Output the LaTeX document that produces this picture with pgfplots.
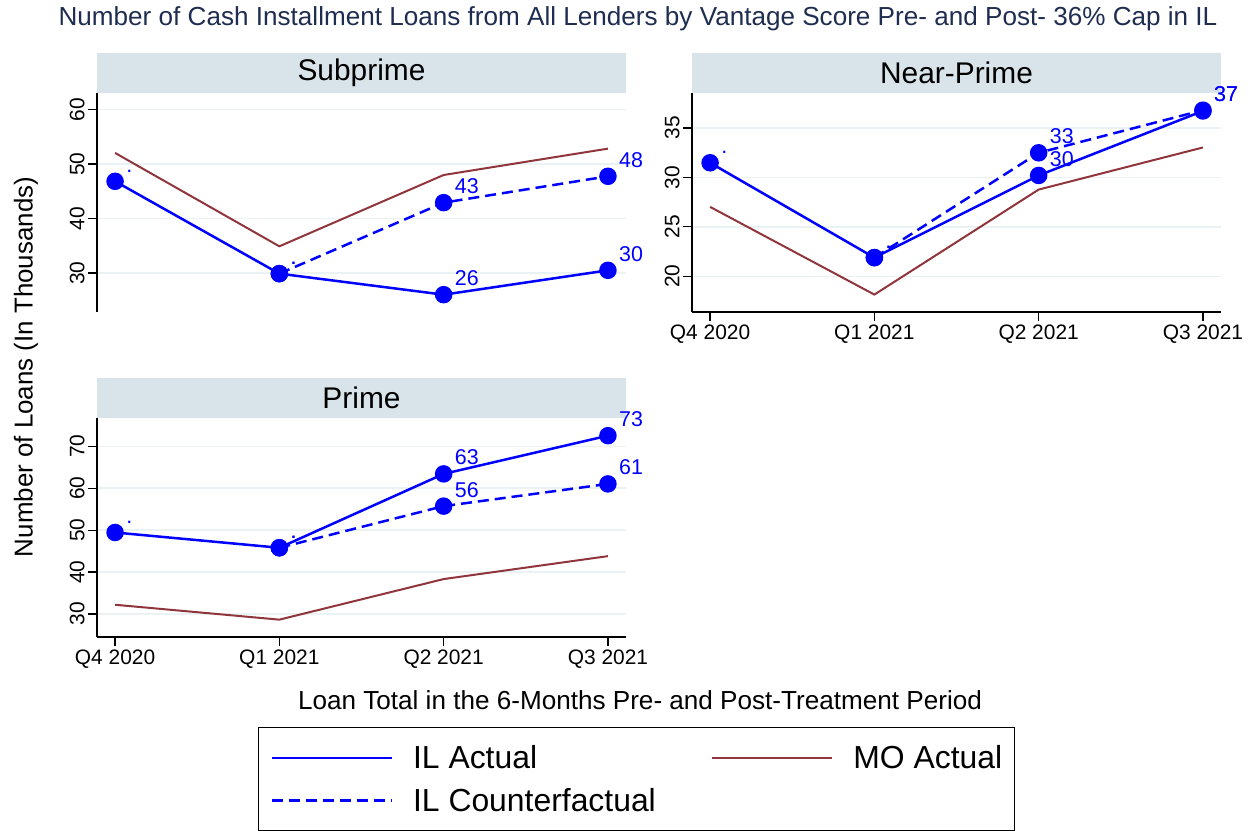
\documentclass[border=0pt]{standalone}
\usepackage{pgfplots}
\pgfplotsset{compat=1.18}
\usepackage{fontspec}
\setmainfont{Liberation Sans}
\definecolor{hdr}{RGB}{217,228,234}
\definecolor{gridc}{RGB}{234,242,243}
\definecolor{mo}{RGB}{144,53,59}
\definecolor{ttl}{RGB}{30,45,80}

\pgfplotsset{
  panel/.style={
    scale only axis, width=529bp, height=219bp,
    xmin=-0.11, xmax=3.11, clip=false,
    xtick={0,1,2,3}, xticklabels={Q4 2020,Q1 2021,Q2 2021,Q3 2021},
    axis line style={-, black, line width=1.2bp},
    tick style={black, line width=1.2bp},
    tick align=outside, major tick length=9bp,
    ymajorgrids, major grid style={gridc, line width=1.5bp},
    yticklabel style={rotate=90, anchor=south},
    ticklabel style={font=\fontsize{21}{25}\selectfont, text=black},
    /pgf/number format/assume math mode=true,
  },
  ilA/.style={blue, solid, line width=2.5bp, mark=*, mark size=7.5bp,
    mark options={solid, fill=blue, draw=blue},
    nodes near coords, point meta=explicit symbolic,
    every node near coord/.append style={anchor=base west, xshift=10bp, yshift=9bp,
      inner sep=0pt, text=blue, font=\fontsize{21.5}{25}\selectfont}},
  ilC/.style={ilA, dash pattern=on 11bp off 6bp},
  moA/.style={mo, solid, line width=2bp, no markers},
}

\begin{document}
\begin{tikzpicture}[x=1bp,y=1bp]
\path[use as bounding box] (0,0) rectangle (1256,831);

% title
\node[text=ttl, font=\fontsize{26.2}{30}\selectfont] at (638,812) {Number of Cash Installment Loans from All Lenders by Vantage Score Pre- and Post- 36\% Cap in IL};

% panel headers
\fill[hdr] (97,738) rectangle (626,778);
\fill[hdr] (692,738) rectangle (1221,778);
\fill[hdr] (97,413) rectangle (626,453);
\node[font=\fontsize{30}{35}\selectfont] at (361.5,758) {Subprime};
\node[font=\fontsize{30}{35}\selectfont] at (956.5,758) {Near-Prime};
\node[font=\fontsize{30}{35}\selectfont] at (361.5,433) {Prime};

% axis titles
\node[rotate=90, font=\fontsize{26}{30}\selectfont] at (26,464) {Number of Loans (In Thousands)};
\node[font=\fontsize{26.2}{30}\selectfont] at (640,131) {Loan Total in the 6-Months Pre- and Post-Treatment Period};

% Subprime
\begin{axis}[panel, at={(97bp,519bp)}, anchor=south west,
  axis x line=none, axis y line*=left,
  ymin=22.84, ymax=63.06, ytick={30,40,50,60}]
\addplot[moA] coordinates {(0,52.05) (1,34.9) (2,48.0) (3,52.84)};
\addplot[ilA] coordinates {(0,46.84) [.] (1,29.88) [.] (2,26.02) [26] (3,30.49) [30]};
\addplot[ilC] coordinates {(1,29.88) [.] (2,42.92) [43] (3,47.76) [48]};
\end{axis}

% Near-Prime
\begin{axis}[panel, at={(692bp,519bp)}, anchor=south west,
  axis lines*=left,
  ymin=16.39, ymax=38.54, ytick={20,25,30,35}]
\addplot[moA] coordinates {(0,27.02) (1,18.15) (2,28.77) (3,33.03)};
\addplot[ilA] coordinates {(0,31.48) [.] (1,21.89) [.] (2,30.2) [30] (3,36.72) [37]};
\addplot[ilC] coordinates {(1,21.89) [.] (2,32.49) [33] (3,36.8) [37]};
\end{axis}

% Prime
\begin{axis}[panel, at={(97bp,194bp)}, anchor=south west,
  axis lines*=left,
  ymin=24.51, ymax=76.76, ytick={30,40,50,60,70},
  legend image code/.code={\draw[#1] (0bp,0bp) -- (120bp,0bp);},
  legend cell align=left,
  legend style={at={(0.3043,-0.411)}, anchor=north west, draw=black, line width=1.2bp,
    legend columns=2, font=\fontsize{32}{38}\selectfont,
    inner xsep=12bp, inner ysep=14bp, row sep=10bp,
    nodes={inner xsep=0bp, inner ysep=4bp},
    /tikz/every odd column/.append style={column sep=20bp},
    /tikz/every even column/.append style={column sep=55bp}}]
\addlegendimage{blue, line width=2.5bp}
\addlegendentry{IL Actual}
\addlegendimage{mo, line width=2.5bp}
\addlegendentry{MO Actual}
\addlegendimage{blue, line width=2.5bp, dash pattern=on 11bp off 6bp}
\addlegendentry{IL Counterfactual}
\addplot[moA, forget plot] coordinates {(0,32.2) (1,28.65) (2,38.33) (3,43.8)};
\addplot[ilA, forget plot] coordinates {(0,49.44) [.] (1,45.8) [.] (2,63.42) [63] (3,72.54) [73]};
\addplot[ilC, forget plot] coordinates {(1,45.8) [.] (2,55.73) [56] (3,61.03) [61]};
\end{axis}
\end{tikzpicture}
\end{document}
